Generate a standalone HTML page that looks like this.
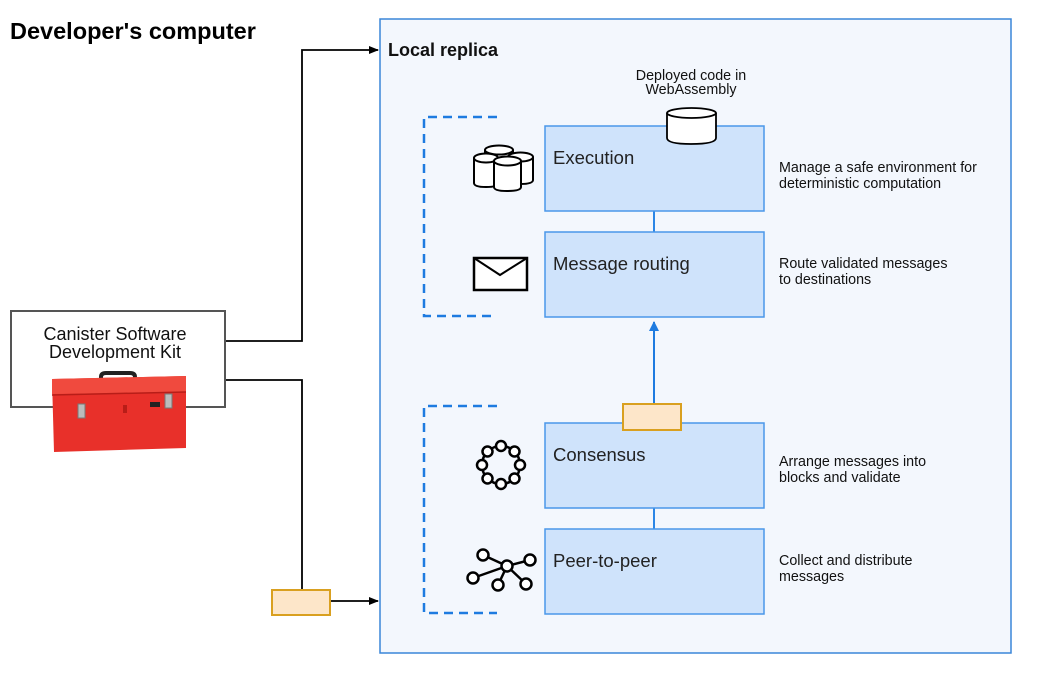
<!DOCTYPE html>
<html><head><meta charset="utf-8"><style>
html,body{margin:0;padding:0;background:#fff;}
svg{display:block;font-family:"Liberation Sans",sans-serif;}
</style></head><body>
<svg width="1045" height="687" viewBox="0 0 1045 687" xmlns="http://www.w3.org/2000/svg">
<defs>
<marker id="ab" markerWidth="10" markerHeight="10" refX="9" refY="5" orient="auto" markerUnits="userSpaceOnUse"><path d="M0,1 L10,5 L0,9 Z" fill="#000"/></marker>
<marker id="abl" markerWidth="10" markerHeight="12" refX="9" refY="5" orient="auto" markerUnits="userSpaceOnUse"><path d="M0,0 L10,5 L0,10 Z" fill="#1e7be0"/></marker>
</defs>
<rect width="1045" height="687" fill="#fff"/>
<text x="10" y="39" font-size="23.5" font-weight="bold" fill="#000">Developer's computer</text>

<rect x="380" y="19" width="631" height="634" fill="#f3f7fd" stroke="#3a86d8" stroke-width="1.5"/>
<text x="388" y="56" font-size="18" font-weight="bold" fill="#111">Local replica</text>

<path d="M225,341 H302 V50 H378" fill="none" stroke="#000" stroke-width="1.8" marker-end="url(#ab)"/>
<path d="M225,380 H302 V601 H378" fill="none" stroke="#000" stroke-width="1.8" marker-end="url(#ab)"/>
<rect x="272" y="590" width="58" height="25" fill="#fde6c9" stroke="#d9a020" stroke-width="2"/>

<rect x="11" y="311" width="214" height="96" fill="#fff" stroke="#555" stroke-width="2"/>
<text x="115" y="340" font-size="18" text-anchor="middle" fill="#111">Canister Software</text>
<text x="115" y="358" font-size="18" text-anchor="middle" fill="#111">Development Kit</text>
<path d="M101,383 V377 Q101,373 106,373 H130 Q135,373 135,377 V383" fill="none" stroke="#222" stroke-width="4"/>
<path d="M52,379 L186,376 L186,448 L54,452 Z" fill="#e8302a"/>
<path d="M52,379 L186,376 L186,392 L52,394 Z" fill="#f04a3e"/>
<line x1="52" y1="395" x2="186" y2="392" stroke="#b81d18" stroke-width="1.5"/>
<rect x="78" y="404" width="7" height="14" fill="#bbb" stroke="#777"/>
<rect x="165" y="394" width="7" height="14" fill="#bbb" stroke="#777"/>
<rect x="123" y="405" width="4" height="8" fill="#b81d18"/>
<rect x="150" y="402" width="10" height="5" fill="#222"/>

<path d="M497,117 H424 V316 H497" fill="none" stroke="#1e7be0" stroke-width="2.5" stroke-dasharray="9,6"/>
<path d="M497,406 H424 V613 H497" fill="none" stroke="#1e7be0" stroke-width="2.5" stroke-dasharray="9,6"/>

<line x1="654" y1="211" x2="654" y2="232" stroke="#2b86e6" stroke-width="2"/>
<line x1="654" y1="508" x2="654" y2="529" stroke="#2b86e6" stroke-width="2"/>
<rect x="545" y="126" width="219" height="85" fill="#cfe3fb" stroke="#4a97ea" stroke-width="1.5"/>
<rect x="545" y="232" width="219" height="85" fill="#cfe3fb" stroke="#4a97ea" stroke-width="1.5"/>
<rect x="545" y="423" width="219" height="85" fill="#cfe3fb" stroke="#4a97ea" stroke-width="1.5"/>
<rect x="545" y="529" width="219" height="85" fill="#cfe3fb" stroke="#4a97ea" stroke-width="1.5"/>
<g font-size="18.5" fill="#222">
<text x="553" y="164">Execution</text>
<text x="553" y="270">Message routing</text>
<text x="553" y="461">Consensus</text>
<text x="553" y="567">Peer-to-peer</text>
</g>

<line x1="654" y1="404" x2="654" y2="322" stroke="#1e7be0" stroke-width="2" marker-end="url(#abl)"/>
<rect x="623" y="404" width="58" height="26" fill="#fde6c9" stroke="#d9a020" stroke-width="2"/>

<path d="M667,113 V138 Q667,144 691,144 Q716,144 716,138 V113" fill="#fff" stroke="#000" stroke-width="1.8"/>
<ellipse cx="691.5" cy="113" rx="24.5" ry="5" fill="#fff" stroke="#000" stroke-width="1.8"/>
<text x="691" y="80" font-size="14.3" text-anchor="middle" fill="#111">Deployed code in</text>
<text x="691" y="94" font-size="14.3" text-anchor="middle" fill="#111">WebAssembly</text>

<g font-size="14.3" fill="#111">
<text x="779" y="172">Manage a safe environment for</text>
<text x="779" y="188">deterministic computation</text>
<text x="779" y="268">Route validated messages</text>
<text x="779" y="284">to destinations</text>
<text x="779" y="466">Arrange messages into</text>
<text x="779" y="482">blocks and validate</text>
<text x="779" y="565">Collect and distribute</text>
<text x="779" y="581">messages</text>
</g>

<g fill="#fff" stroke="#000" stroke-width="2">
<path d="M485,150 V170 Q485,174 499,174 Q513,174 513,170 V150"/><ellipse cx="499" cy="150" rx="14" ry="4.5"/>
<path d="M508,157 V180 Q508,184 520,184 Q533,184 533,180 V157"/><ellipse cx="520.5" cy="157" rx="12.5" ry="4.5"/>
<path d="M474,158 V183 Q474,187 486,187 Q498,187 498,183 V158"/><ellipse cx="486" cy="158" rx="12" ry="4.5"/>
<path d="M494,161 V187 Q494,191 507,191 Q521,191 521,187 V161"/><ellipse cx="507.5" cy="161" rx="13.5" ry="4.5"/>
</g>
<rect x="474" y="258" width="53" height="32" fill="#fff" stroke="#000" stroke-width="2.5"/>
<path d="M474,258 L500,275 L527,258" fill="none" stroke="#000" stroke-width="2"/>
<g fill="#fff" stroke="#000" stroke-width="2.5">
<circle cx="501" cy="465" r="19" fill="none"/>
<circle cx="501" cy="446" r="5"/><circle cx="514.5" cy="451.5" r="5"/><circle cx="520" cy="465" r="5"/><circle cx="514.5" cy="478.5" r="5"/>
<circle cx="501" cy="484" r="5"/><circle cx="487.5" cy="478.5" r="5"/><circle cx="482" cy="465" r="5"/><circle cx="487.5" cy="451.5" r="5"/>
</g>
<g stroke="#000" stroke-width="2.5" fill="#fff">
<line x1="507" y1="566" x2="483" y2="555"/><line x1="507" y1="566" x2="530" y2="560"/>
<line x1="507" y1="566" x2="473" y2="578"/><line x1="507" y1="566" x2="498" y2="585"/><line x1="507" y1="566" x2="526" y2="584"/>
<circle cx="507" cy="566" r="5.5"/><circle cx="483" cy="555" r="5.5"/><circle cx="530" cy="560" r="5.5"/>
<circle cx="473" cy="578" r="5.5"/><circle cx="498" cy="585" r="5.5"/><circle cx="526" cy="584" r="5.5"/>
</g>
</svg>
</body></html>
